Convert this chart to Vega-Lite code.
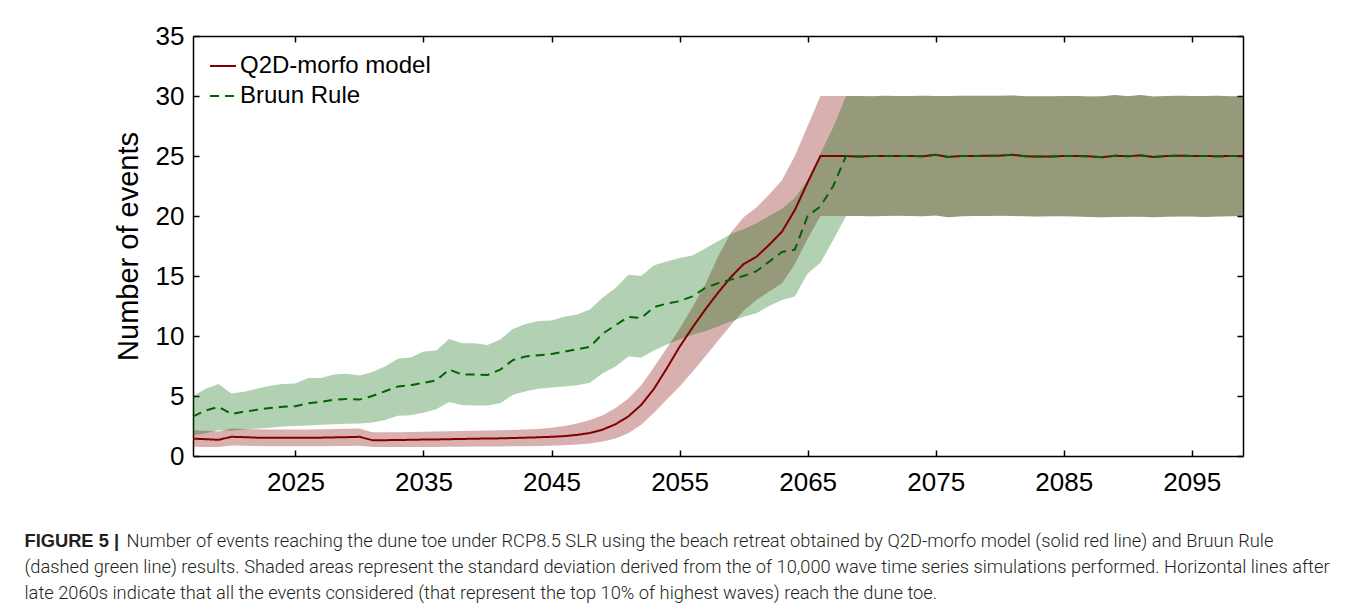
{
  "$schema": "https://vega.github.io/schema/vega-lite/v6.json",
  "width": 1050,
  "height": 420,
  "autosize": "none",
  "padding": {"left": 193, "top": 36, "right": 117, "bottom": 154},
  "background": "white",
  "config": {
    "view": {"stroke": null},
    "axis": {"domainColor": "black", "domainWidth": 1.5, "tickColor": "black", "tickWidth": 1.5, "grid": false,
      "labelFont": "Liberation Sans", "labelFontSize": 26, "labelColor": "black", "titleFont": "Liberation Sans", "titleColor": "black"},
    "legend": {"orient": "top-left", "offset": 16, "padding": 0, "labelFont": "Liberation Sans", "labelFontSize": 24, "labelColor": "black",
      "labelLimit": 0, "symbolType": "stroke", "symbolSize": 676, "symbolStrokeWidth": 2, "labelOffset": 3, "rowPadding": 4}
  },
  "datasets": {
    "d": [
      {"t":2017,"m":"Q2D-morfo model","v":1.45,"lo":0.78,"hi":2.15},
      {"t":2018,"m":"Q2D-morfo model","v":1.4,"lo":0.76,"hi":2.1},
      {"t":2019,"m":"Q2D-morfo model","v":1.35,"lo":0.75,"hi":2.05},
      {"t":2020,"m":"Q2D-morfo model","v":1.6,"lo":0.88,"hi":2.3},
      {"t":2021,"m":"Q2D-morfo model","v":1.57,"lo":0.85,"hi":2.25},
      {"t":2022,"m":"Q2D-morfo model","v":1.53,"lo":0.83,"hi":2.22},
      {"t":2023,"m":"Q2D-morfo model","v":1.52,"lo":0.82,"hi":2.2},
      {"t":2024,"m":"Q2D-morfo model","v":1.52,"lo":0.82,"hi":2.2},
      {"t":2025,"m":"Q2D-morfo model","v":1.52,"lo":0.82,"hi":2.2},
      {"t":2026,"m":"Q2D-morfo model","v":1.52,"lo":0.82,"hi":2.2},
      {"t":2027,"m":"Q2D-morfo model","v":1.53,"lo":0.82,"hi":2.22},
      {"t":2028,"m":"Q2D-morfo model","v":1.55,"lo":0.83,"hi":2.25},
      {"t":2029,"m":"Q2D-morfo model","v":1.57,"lo":0.84,"hi":2.27},
      {"t":2030,"m":"Q2D-morfo model","v":1.6,"lo":0.86,"hi":2.3},
      {"t":2031,"m":"Q2D-morfo model","v":1.32,"lo":0.74,"hi":1.97},
      {"t":2032,"m":"Q2D-morfo model","v":1.32,"lo":0.74,"hi":1.97},
      {"t":2033,"m":"Q2D-morfo model","v":1.33,"lo":0.74,"hi":1.98},
      {"t":2034,"m":"Q2D-morfo model","v":1.35,"lo":0.75,"hi":2.0},
      {"t":2035,"m":"Q2D-morfo model","v":1.37,"lo":0.76,"hi":2.02},
      {"t":2036,"m":"Q2D-morfo model","v":1.38,"lo":0.76,"hi":2.04},
      {"t":2037,"m":"Q2D-morfo model","v":1.4,"lo":0.77,"hi":2.06},
      {"t":2038,"m":"Q2D-morfo model","v":1.42,"lo":0.78,"hi":2.08},
      {"t":2039,"m":"Q2D-morfo model","v":1.44,"lo":0.79,"hi":2.1},
      {"t":2040,"m":"Q2D-morfo model","v":1.46,"lo":0.8,"hi":2.12},
      {"t":2041,"m":"Q2D-morfo model","v":1.47,"lo":0.8,"hi":2.14},
      {"t":2042,"m":"Q2D-morfo model","v":1.5,"lo":0.81,"hi":2.17},
      {"t":2043,"m":"Q2D-morfo model","v":1.53,"lo":0.82,"hi":2.21},
      {"t":2044,"m":"Q2D-morfo model","v":1.56,"lo":0.84,"hi":2.26},
      {"t":2045,"m":"Q2D-morfo model","v":1.6,"lo":0.86,"hi":2.35},
      {"t":2046,"m":"Q2D-morfo model","v":1.66,"lo":0.9,"hi":2.5},
      {"t":2047,"m":"Q2D-morfo model","v":1.76,"lo":0.95,"hi":2.7},
      {"t":2048,"m":"Q2D-morfo model","v":1.92,"lo":1.05,"hi":3.0},
      {"t":2049,"m":"Q2D-morfo model","v":2.2,"lo":1.2,"hi":3.4},
      {"t":2050,"m":"Q2D-morfo model","v":2.65,"lo":1.45,"hi":4.0},
      {"t":2051,"m":"Q2D-morfo model","v":3.3,"lo":1.9,"hi":4.8},
      {"t":2052,"m":"Q2D-morfo model","v":4.25,"lo":2.6,"hi":5.9},
      {"t":2053,"m":"Q2D-morfo model","v":5.6,"lo":3.6,"hi":7.4},
      {"t":2054,"m":"Q2D-morfo model","v":7.3,"lo":4.7,"hi":9.0},
      {"t":2055,"m":"Q2D-morfo model","v":9.1,"lo":5.8,"hi":10.6},
      {"t":2056,"m":"Q2D-morfo model","v":10.7,"lo":7.0,"hi":12.4},
      {"t":2057,"m":"Q2D-morfo model","v":12.2,"lo":8.3,"hi":14.3},
      {"t":2058,"m":"Q2D-morfo model","v":13.6,"lo":9.6,"hi":16.6},
      {"t":2059,"m":"Q2D-morfo model","v":14.9,"lo":10.9,"hi":18.6},
      {"t":2060,"m":"Q2D-morfo model","v":16.0,"lo":12.1,"hi":19.9},
      {"t":2061,"m":"Q2D-morfo model","v":16.6,"lo":13.0,"hi":20.7},
      {"t":2062,"m":"Q2D-morfo model","v":17.6,"lo":13.7,"hi":21.8},
      {"t":2063,"m":"Q2D-morfo model","v":18.7,"lo":14.4,"hi":23.0},
      {"t":2064,"m":"Q2D-morfo model","v":20.5,"lo":16.0,"hi":25.0},
      {"t":2065,"m":"Q2D-morfo model","v":22.8,"lo":18.1,"hi":27.5},
      {"t":2066,"m":"Q2D-morfo model","v":25.0,"lo":20.0,"hi":30.0},
      {"t":2067,"m":"Q2D-morfo model","v":25.0,"lo":20.0,"hi":30.0},
      {"t":2068,"m":"Q2D-morfo model","v":25.0,"lo":20.0,"hi":30.0},
      {"t":2069,"m":"Q2D-morfo model","v":24.95,"lo":20.0,"hi":30.0},
      {"t":2070,"m":"Q2D-morfo model","v":25.0,"lo":19.98,"hi":29.98},
      {"t":2071,"m":"Q2D-morfo model","v":25.0,"lo":20.0,"hi":30.02},
      {"t":2072,"m":"Q2D-morfo model","v":25.0,"lo":20.02,"hi":30.0},
      {"t":2073,"m":"Q2D-morfo model","v":25.0,"lo":20.0,"hi":30.0},
      {"t":2074,"m":"Q2D-morfo model","v":24.98,"lo":19.97,"hi":30.02},
      {"t":2075,"m":"Q2D-morfo model","v":25.1,"lo":20.05,"hi":30.0},
      {"t":2076,"m":"Q2D-morfo model","v":24.92,"lo":19.9,"hi":30.0},
      {"t":2077,"m":"Q2D-morfo model","v":25.0,"lo":19.98,"hi":30.02},
      {"t":2078,"m":"Q2D-morfo model","v":25.0,"lo":20.0,"hi":30.02},
      {"t":2079,"m":"Q2D-morfo model","v":25.02,"lo":20.0,"hi":30.03},
      {"t":2080,"m":"Q2D-morfo model","v":25.03,"lo":20.02,"hi":30.03},
      {"t":2081,"m":"Q2D-morfo model","v":25.1,"lo":20.0,"hi":30.05},
      {"t":2082,"m":"Q2D-morfo model","v":24.98,"lo":19.97,"hi":29.98},
      {"t":2083,"m":"Q2D-morfo model","v":24.95,"lo":19.95,"hi":29.97},
      {"t":2084,"m":"Q2D-morfo model","v":24.96,"lo":19.97,"hi":29.98},
      {"t":2085,"m":"Q2D-morfo model","v":25.0,"lo":19.98,"hi":30.0},
      {"t":2086,"m":"Q2D-morfo model","v":25.0,"lo":19.95,"hi":30.0},
      {"t":2087,"m":"Q2D-morfo model","v":24.97,"lo":19.92,"hi":29.95},
      {"t":2088,"m":"Q2D-morfo model","v":24.9,"lo":19.9,"hi":29.97},
      {"t":2089,"m":"Q2D-morfo model","v":25.02,"lo":19.92,"hi":30.08},
      {"t":2090,"m":"Q2D-morfo model","v":24.98,"lo":19.93,"hi":29.98},
      {"t":2091,"m":"Q2D-morfo model","v":25.05,"lo":19.93,"hi":30.08},
      {"t":2092,"m":"Q2D-morfo model","v":24.92,"lo":19.9,"hi":29.95},
      {"t":2093,"m":"Q2D-morfo model","v":25.0,"lo":19.93,"hi":30.0},
      {"t":2094,"m":"Q2D-morfo model","v":25.03,"lo":19.95,"hi":30.02},
      {"t":2095,"m":"Q2D-morfo model","v":25.0,"lo":19.95,"hi":30.0},
      {"t":2096,"m":"Q2D-morfo model","v":25.0,"lo":19.92,"hi":30.0},
      {"t":2097,"m":"Q2D-morfo model","v":24.98,"lo":19.95,"hi":30.02},
      {"t":2098,"m":"Q2D-morfo model","v":25.0,"lo":19.97,"hi":29.98},
      {"t":2099,"m":"Q2D-morfo model","v":25.0,"lo":20.0,"hi":29.98},
      {"t":2017,"m":"Bruun Rule","v":3.3,"lo":1.75,"hi":5.0},
      {"t":2018,"m":"Bruun Rule","v":3.8,"lo":1.9,"hi":5.6},
      {"t":2019,"m":"Bruun Rule","v":4.1,"lo":2.15,"hi":6.0},
      {"t":2020,"m":"Bruun Rule","v":3.5,"lo":2.1,"hi":5.2},
      {"t":2021,"m":"Bruun Rule","v":3.7,"lo":2.2,"hi":5.35},
      {"t":2022,"m":"Bruun Rule","v":3.85,"lo":2.3,"hi":5.6},
      {"t":2023,"m":"Bruun Rule","v":4.0,"lo":2.35,"hi":5.85},
      {"t":2024,"m":"Bruun Rule","v":4.1,"lo":2.45,"hi":6.0},
      {"t":2025,"m":"Bruun Rule","v":4.15,"lo":2.5,"hi":6.05},
      {"t":2026,"m":"Bruun Rule","v":4.4,"lo":2.55,"hi":6.5},
      {"t":2027,"m":"Bruun Rule","v":4.5,"lo":2.6,"hi":6.5},
      {"t":2028,"m":"Bruun Rule","v":4.7,"lo":2.65,"hi":6.8},
      {"t":2029,"m":"Bruun Rule","v":4.75,"lo":2.68,"hi":6.85},
      {"t":2030,"m":"Bruun Rule","v":4.7,"lo":2.7,"hi":6.7},
      {"t":2031,"m":"Bruun Rule","v":5.0,"lo":2.8,"hi":7.0},
      {"t":2032,"m":"Bruun Rule","v":5.4,"lo":3.0,"hi":7.45},
      {"t":2033,"m":"Bruun Rule","v":5.8,"lo":3.35,"hi":8.1},
      {"t":2034,"m":"Bruun Rule","v":5.9,"lo":3.4,"hi":8.2},
      {"t":2035,"m":"Bruun Rule","v":6.1,"lo":3.6,"hi":8.7},
      {"t":2036,"m":"Bruun Rule","v":6.3,"lo":3.9,"hi":8.8},
      {"t":2037,"m":"Bruun Rule","v":7.2,"lo":4.5,"hi":9.75},
      {"t":2038,"m":"Bruun Rule","v":6.8,"lo":4.25,"hi":9.4},
      {"t":2039,"m":"Bruun Rule","v":6.8,"lo":4.2,"hi":9.4},
      {"t":2040,"m":"Bruun Rule","v":6.75,"lo":4.2,"hi":9.25},
      {"t":2041,"m":"Bruun Rule","v":7.2,"lo":4.4,"hi":9.7},
      {"t":2042,"m":"Bruun Rule","v":8.0,"lo":5.1,"hi":10.6},
      {"t":2043,"m":"Bruun Rule","v":8.3,"lo":5.4,"hi":11.0},
      {"t":2044,"m":"Bruun Rule","v":8.4,"lo":5.6,"hi":11.25},
      {"t":2045,"m":"Bruun Rule","v":8.5,"lo":5.7,"hi":11.3},
      {"t":2046,"m":"Bruun Rule","v":8.7,"lo":5.8,"hi":11.6},
      {"t":2047,"m":"Bruun Rule","v":8.9,"lo":5.9,"hi":11.8},
      {"t":2048,"m":"Bruun Rule","v":9.1,"lo":6.1,"hi":12.2},
      {"t":2049,"m":"Bruun Rule","v":10.2,"lo":6.9,"hi":13.2},
      {"t":2050,"m":"Bruun Rule","v":10.9,"lo":7.45,"hi":14.0},
      {"t":2051,"m":"Bruun Rule","v":11.6,"lo":8.3,"hi":15.1},
      {"t":2052,"m":"Bruun Rule","v":11.5,"lo":8.2,"hi":15.0},
      {"t":2053,"m":"Bruun Rule","v":12.4,"lo":8.8,"hi":15.9},
      {"t":2054,"m":"Bruun Rule","v":12.7,"lo":9.3,"hi":16.2},
      {"t":2055,"m":"Bruun Rule","v":12.9,"lo":9.7,"hi":16.5},
      {"t":2056,"m":"Bruun Rule","v":13.3,"lo":10.1,"hi":16.7},
      {"t":2057,"m":"Bruun Rule","v":14.0,"lo":10.4,"hi":17.3},
      {"t":2058,"m":"Bruun Rule","v":14.4,"lo":10.8,"hi":17.9},
      {"t":2059,"m":"Bruun Rule","v":14.7,"lo":11.2,"hi":18.5},
      {"t":2060,"m":"Bruun Rule","v":15.0,"lo":11.6,"hi":18.9},
      {"t":2061,"m":"Bruun Rule","v":15.4,"lo":11.9,"hi":19.4},
      {"t":2062,"m":"Bruun Rule","v":16.2,"lo":12.5,"hi":20.0},
      {"t":2063,"m":"Bruun Rule","v":17.0,"lo":13.0,"hi":20.6},
      {"t":2064,"m":"Bruun Rule","v":17.2,"lo":13.3,"hi":21.5},
      {"t":2065,"m":"Bruun Rule","v":20.0,"lo":15.2,"hi":23.0},
      {"t":2066,"m":"Bruun Rule","v":20.8,"lo":16.1,"hi":25.2},
      {"t":2067,"m":"Bruun Rule","v":22.5,"lo":18.0,"hi":27.4},
      {"t":2068,"m":"Bruun Rule","v":25.0,"lo":20.0,"hi":30.0},
      {"t":2069,"m":"Bruun Rule","v":24.95,"lo":20.0,"hi":30.0},
      {"t":2070,"m":"Bruun Rule","v":25.0,"lo":19.98,"hi":29.98},
      {"t":2071,"m":"Bruun Rule","v":25.0,"lo":20.0,"hi":30.02},
      {"t":2072,"m":"Bruun Rule","v":25.0,"lo":20.02,"hi":30.0},
      {"t":2073,"m":"Bruun Rule","v":25.0,"lo":20.0,"hi":30.0},
      {"t":2074,"m":"Bruun Rule","v":24.98,"lo":19.97,"hi":30.02},
      {"t":2075,"m":"Bruun Rule","v":25.1,"lo":20.05,"hi":30.0},
      {"t":2076,"m":"Bruun Rule","v":24.92,"lo":19.9,"hi":30.0},
      {"t":2077,"m":"Bruun Rule","v":25.0,"lo":19.98,"hi":30.02},
      {"t":2078,"m":"Bruun Rule","v":25.0,"lo":20.0,"hi":30.02},
      {"t":2079,"m":"Bruun Rule","v":25.02,"lo":20.0,"hi":30.03},
      {"t":2080,"m":"Bruun Rule","v":25.03,"lo":20.02,"hi":30.03},
      {"t":2081,"m":"Bruun Rule","v":25.1,"lo":20.0,"hi":30.05},
      {"t":2082,"m":"Bruun Rule","v":24.98,"lo":19.97,"hi":29.98},
      {"t":2083,"m":"Bruun Rule","v":24.95,"lo":19.95,"hi":29.97},
      {"t":2084,"m":"Bruun Rule","v":24.96,"lo":19.97,"hi":29.98},
      {"t":2085,"m":"Bruun Rule","v":25.0,"lo":19.98,"hi":30.0},
      {"t":2086,"m":"Bruun Rule","v":25.0,"lo":19.95,"hi":30.0},
      {"t":2087,"m":"Bruun Rule","v":24.97,"lo":19.92,"hi":29.95},
      {"t":2088,"m":"Bruun Rule","v":24.9,"lo":19.9,"hi":29.97},
      {"t":2089,"m":"Bruun Rule","v":25.02,"lo":19.92,"hi":30.08},
      {"t":2090,"m":"Bruun Rule","v":24.98,"lo":19.93,"hi":29.98},
      {"t":2091,"m":"Bruun Rule","v":25.05,"lo":19.93,"hi":30.08},
      {"t":2092,"m":"Bruun Rule","v":24.92,"lo":19.9,"hi":29.95},
      {"t":2093,"m":"Bruun Rule","v":25.0,"lo":19.93,"hi":30.0},
      {"t":2094,"m":"Bruun Rule","v":25.03,"lo":19.95,"hi":30.02},
      {"t":2095,"m":"Bruun Rule","v":25.0,"lo":19.95,"hi":30.0},
      {"t":2096,"m":"Bruun Rule","v":25.0,"lo":19.92,"hi":30.0},
      {"t":2097,"m":"Bruun Rule","v":24.98,"lo":19.95,"hi":30.02},
      {"t":2098,"m":"Bruun Rule","v":25.0,"lo":19.97,"hi":29.98},
      {"t":2099,"m":"Bruun Rule","v":25.0,"lo":20.0,"hi":29.98}
    ]
  },
  "data": {"name": "d"},
  "resolve": {"axis": {"x": "independent", "y": "independent"}},
  "layer": [
    {
      "transform": [{"filter": "datum.m === 'Q2D-morfo model'"}],
      "mark": {"type": "area", "color": "#800000", "opacity": 0.31},
      "encoding": {
        "x": {"field": "t", "type": "quantitative", "scale": {"domain": [2017, 2099], "nice": false, "zero": false},
          "axis": {"orient": "bottom", "values": [2025, 2035, 2045, 2055, 2065, 2075, 2085, 2095], "format": "d", "tickSize": -6, "labelPadding": 19,
            "title": ["(dashed green line) results. Shaded areas represent the standard deviation derived from the of 10,000 wave time series simulations performed. Horizontal lines after",
              "late 2060s indicate that all the events considered (that represent the top 10% of highest waves) reach the dune toe."],
            "titleX": -169, "titleY": 116, "titleAlign": "left", "titleAnchor": "start", "titleBaseline": "alphabetic", "titleAngle": 0,
            "titleFont": "Roboto", "titleFontWeight": 300, "titleFontSize": 18.3, "titleLineHeight": 26, "titleColor": "#231f20"}},
        "y": {"field": "lo", "type": "quantitative", "scale": {"domain": [0, 35], "nice": false},
          "axis": {"orient": "left", "values": [0, 5, 10, 15, 20, 25, 30, 35], "tickSize": -6, "labelPadding": 15,
            "title": "Number of events", "titleFontSize": 29, "titleFontWeight": "normal", "titlePadding": 12}},
        "y2": {"field": "hi"}
      }
    },
    {
      "transform": [{"filter": "datum.m === 'Bruun Rule'"}],
      "mark": {"type": "area", "color": "#006400", "opacity": 0.3},
      "encoding": {
        "x": {"field": "t", "type": "quantitative", "axis": null},
        "y": {"field": "lo", "type": "quantitative", "axis": null},
        "y2": {"field": "hi"}
      }
    },
    {
      "transform": [{"filter": "datum.m === 'Q2D-morfo model'"}],
      "mark": {"type": "line", "strokeWidth": 2},
      "encoding": {
        "x": {"field": "t", "type": "quantitative", "axis": null},
        "y": {"field": "v", "type": "quantitative", "axis": null},
        "color": {"field": "m", "type": "nominal",
          "scale": {"domain": ["Q2D-morfo model", "Bruun Rule"], "range": ["#800000", "#006400"]},
          "legend": {"title": null}},
        "strokeDash": {"field": "m", "type": "nominal",
          "scale": {"domain": ["Q2D-morfo model", "Bruun Rule"], "range": [[1, 0], [9, 6]]},
          "legend": {"title": null}}
      }
    },
    {
      "transform": [{"filter": "datum.m === 'Bruun Rule'"}],
      "mark": {"type": "line", "strokeWidth": 2},
      "encoding": {
        "x": {"field": "t", "type": "quantitative",
          "axis": {"orient": "top", "values": [2025, 2035, 2045, 2055, 2065, 2075, 2085, 2095], "labels": false, "tickSize": -6,
            "title": "FIGURE 5 |", "titleX": -169, "titleY": 510, "titleAlign": "left", "titleAnchor": "start", "titleBaseline": "alphabetic",
            "titleFont": "Liberation Sans", "titleFontWeight": "bold", "titleFontSize": 18.3, "titleColor": "#231f20"}},
        "y": {"field": "v", "type": "quantitative",
          "axis": {"orient": "right", "values": [0, 5, 10, 15, 20, 25, 30, 35], "labels": false, "tickSize": -6,
            "title": "Number of events reaching the dune toe under RCP8.5 SLR using the beach retreat obtained by Q2D-morfo model (solid red line) and Bruun Rule",
            "titleX": -1117, "titleY": 510, "titleAngle": 0, "titleAlign": "left", "titleAnchor": "start", "titleBaseline": "alphabetic",
            "titleFont": "Roboto", "titleFontWeight": 300, "titleFontSize": 18.3, "titleColor": "#231f20"}},
        "color": {"field": "m", "type": "nominal",
          "scale": {"domain": ["Q2D-morfo model", "Bruun Rule"], "range": ["#800000", "#006400"]},
          "legend": {"title": null}},
        "strokeDash": {"field": "m", "type": "nominal",
          "scale": {"domain": ["Q2D-morfo model", "Bruun Rule"], "range": [[1, 0], [9, 6]]},
          "legend": {"title": null}}
      }
    }
  ]
}
